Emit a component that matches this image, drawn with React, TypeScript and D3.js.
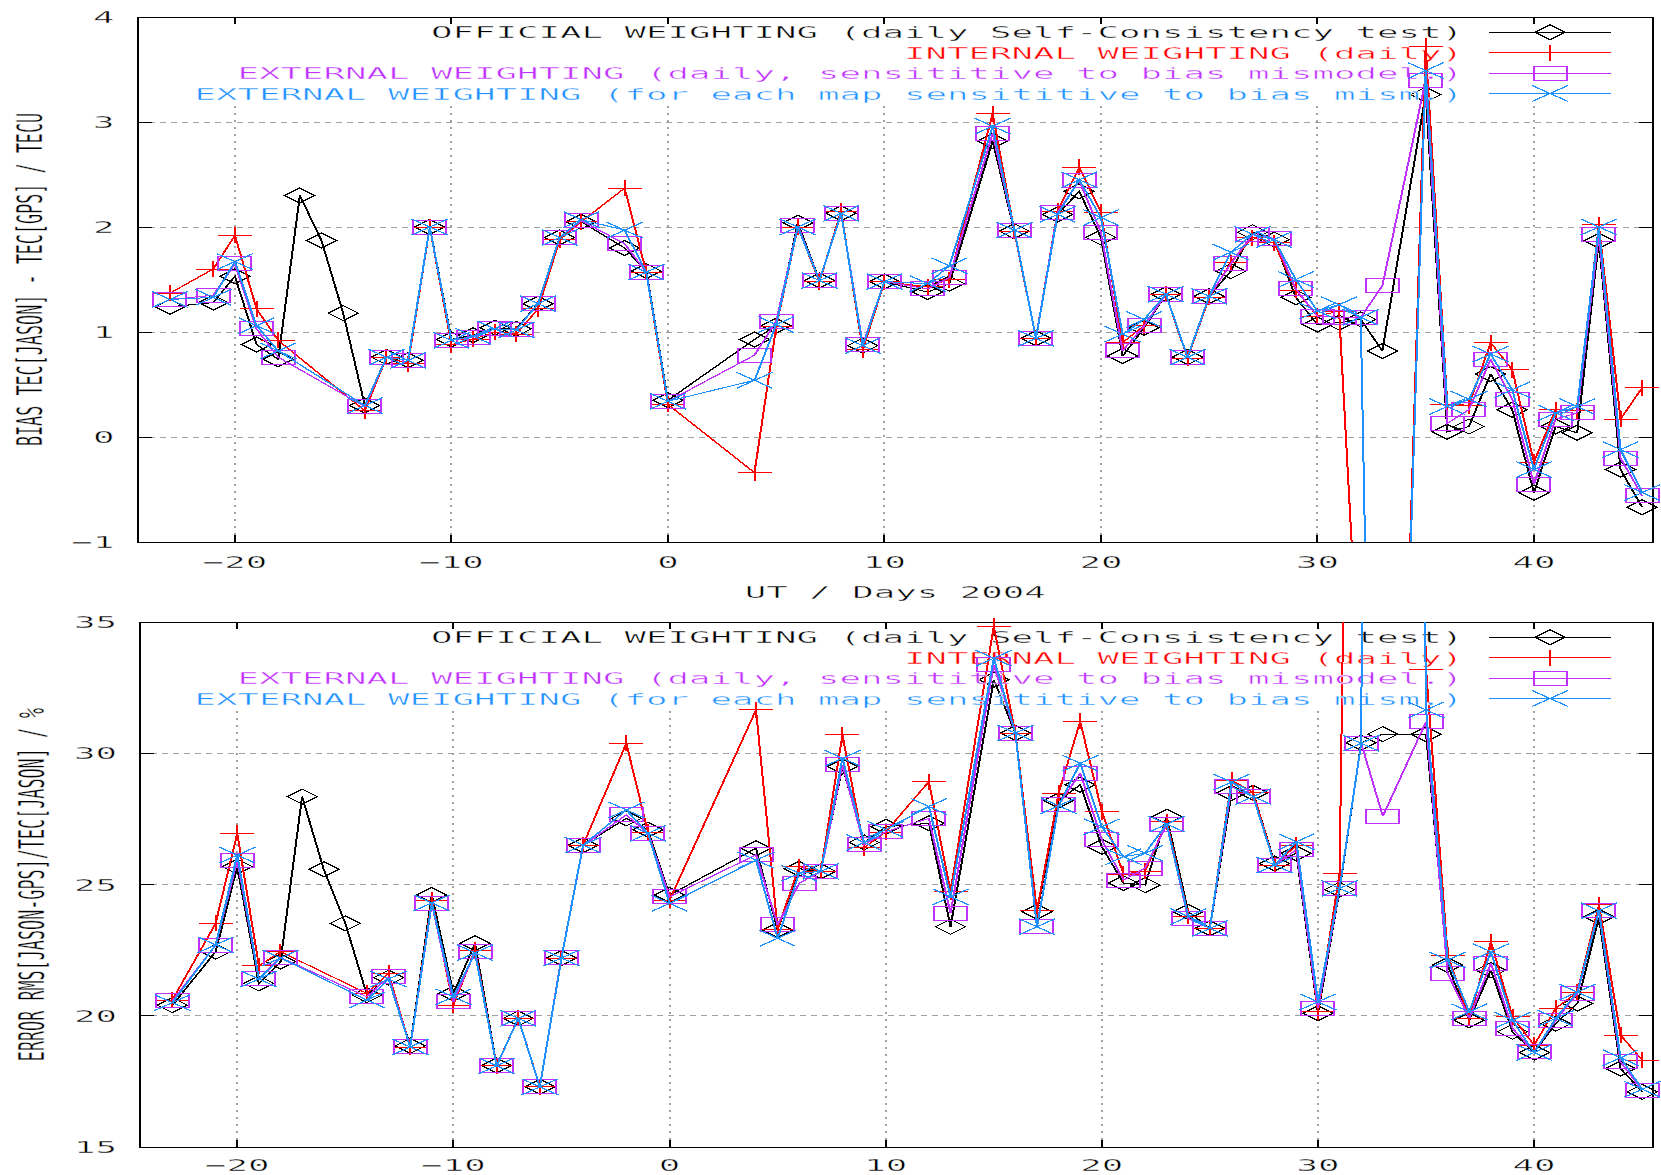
import React from 'react';
import * as d3 from 'd3';

// ---------- data ----------
const xDays: number[] = [-23, -21, -20, -19, -18, -17, -16, -15, -14, -13, -12, -11, -10, -9, -8, -7, -6, -5, -4, -2, -1, 0, 4, 5, 6, 7, 8, 9, 10, 12, 13, 15, 16, 17, 18, 19, 20, 21, 22, 23, 24, 25, 26, 27, 28, 29, 30, 31, 32, 33, 35, 36, 37, 38, 39, 40, 41, 42, 43, 44, 45];

const topBlack: (number | null)[] = [1.24, 1.28, 1.53, 0.88, 0.74, 2.30, 1.87, 1.18, 0.30, 0.76, 0.73, 2.00, 0.93, 0.97, 1.04, 1.03, 1.27, 1.90, 2.05, 1.80, 1.58, 0.35, 0.93, 1.06, 2.04, 1.49, 2.13, 0.87, 1.48, 1.38, 1.46, 2.82, 1.96, 0.94, 2.12, 2.34, 1.90, 0.77, 1.04, 1.36, 0.76, 1.34, 1.58, 1.95, 1.88, 1.33, 1.07, 1.09, 1.12, 0.82, 3.26, 0.05, 0.10, 0.60, 0.26, -0.53, 0.10, 0.04, 1.87, -0.31, -0.67];
const topRed: (number | null)[] = [1.37, 1.60, 1.92, 1.22, 0.92, null, null, null, 0.25, 0.76, 0.70, 2.00, 0.88, 0.93, 1.00, 0.98, 1.22, 1.88, 2.05, 2.37, 1.57, 0.31, -0.34, 1.05, 2.00, 1.48, 2.15, 0.83, 1.48, 1.43, 1.50, 3.08, 1.96, 0.94, 2.15, 2.57, 2.14, 0.90, 1.06, 1.36, 0.75, 1.33, 1.66, 1.90, 1.85, 1.40, 1.15, 1.20, -2.6, -9.5, 3.72, 0.31, 0.30, 0.90, 0.64, -0.24, 0.26, 0.25, 2.02, 0.17, 0.47];
const topMagenta: (number | null)[] = [1.31, 1.35, 1.65, 1.03, 0.76, null, null, null, 0.29, 0.76, 0.73, 2.00, 0.92, 0.95, 1.03, 1.02, 1.27, 1.90, 2.06, 1.84, 1.57, 0.34, 0.78, 1.10, 2.01, 1.49, 2.13, 0.88, 1.48, 1.41, 1.52, 2.89, 1.97, 0.94, 2.14, 2.44, 1.95, 0.82, 1.06, 1.36, 0.76, 1.34, 1.65, 1.93, 1.89, 1.41, 1.15, 1.14, 1.14, 1.44, 3.40, 0.13, 0.26, 0.74, 0.36, -0.45, 0.17, 0.23, 1.93, -0.20, -0.56];
const topBlue: (number | null)[] = [1.31, 1.33, 1.67, 1.06, 0.82, null, null, null, 0.30, 0.76, 0.73, 2.00, 0.92, 0.96, 1.03, 1.02, 1.27, 1.90, 2.07, 1.97, 1.57, 0.34, 0.54, 1.07, 2.00, 1.49, 2.13, 0.87, 1.48, 1.46, 1.63, 2.96, 1.97, 0.94, 2.12, 2.45, 2.09, 0.98, 1.12, 1.36, 0.76, 1.34, 1.76, 1.93, 1.88, 1.50, 1.20, 1.26, 1.14, -9.6, 3.49, 0.29, 0.36, 0.79, 0.45, -0.31, 0.23, 0.29, 2.00, -0.12, -0.53];

const botBlack: (number | null)[] = [20.4, 22.44, 25.68, 21.23, 22.06, 28.35, 25.58, 23.52, 20.79, 21.45, 18.85, 24.6, 20.85, 22.76, 18.1, 19.9, 17.3, 22.2, 26.5, 27.52, 27.08, 24.6, 26.38, 23.27, 25.6, 25.5, 29.5, 26.6, 27.2, 27.33, 23.39, 32.8, 30.77, 23.96, 28.2, 28.8, 26.44, 25.05, 24.98, 27.58, 23.96, 23.33, 28.48, 28.5, 25.8, 26.19, 20.09, 24.8, 30.4, 30.73, 30.73, 21.93, 19.83, 21.74, 19.39, 18.6, 19.7, 20.47, 23.77, 17.99, 17.1];
const botRed: (number | null)[] = [20.6, 23.52, 26.95, 21.9, 22.44, null, null, null, 20.85, 21.61, 18.8, 24.4, 20.4, 22.5, 18.1, 19.9, 17.3, 22.2, 26.5, 30.38, 27.0, 24.4, 31.65, 23.3, 25.68, 25.5, 30.7, 26.4, 27.0, 28.92, 24.73, 34.83, 30.77, 24.0, 28.48, 31.21, 27.78, 25.4, 25.5, 27.4, 23.8, 23.33, 28.98, 28.5, 25.74, 26.5, 20.15, 25.43, 85, 105, 33.2, 22.31, 19.9, 22.82, 19.96, 18.88, 20.28, 20.9, 24.22, 19.26, 18.31];
const botMagenta: (number | null)[] = [20.57, 22.69, 25.93, 21.42, 22.22, null, null, null, 20.72, 21.48, 18.81, 24.28, 20.53, 22.44, 18.09, 19.9, 17.29, 22.22, 26.48, 27.65, 26.95, 24.53, 26.13, 23.46, 25.05, 25.49, 29.56, 26.51, 27.01, 27.52, 23.9, 33.37, 30.77, 23.39, 28.03, 29.24, 26.7, 25.17, 25.62, 27.3, 23.71, 23.33, 28.73, 28.35, 25.74, 26.32, 20.28, 24.85, 30.38, 27.6, 31.2, 21.61, 19.9, 21.99, 19.52, 18.62, 19.83, 20.85, 24.0, 18.24, 17.16];
const botBlue: (number | null)[] = [20.5, 22.7, 26.12, 21.4, 22.2, null, null, null, 20.6, 21.4, 18.81, 24.3, 20.72, 22.4, 18.09, 19.9, 17.29, 22.2, 26.5, 27.84, 26.95, 24.28, 25.93, 22.95, 25.43, 25.5, 29.81, 26.6, 27.1, 27.97, 24.53, 33.62, 30.77, 23.39, 28.0, 29.62, 27.2, 26.06, 26.19, 27.3, 23.78, 23.33, 28.9, 28.35, 25.74, 26.63, 20.53, 24.85, 30.38, 180, 31.65, 22.12, 20.15, 22.44, 19.83, 18.6, 19.9, 20.9, 24.0, 18.4, 17.2];

const xTicks: number[] = [-20, -10, 0, 10, 20, 30, 40];
const topYTicks: number[] = [-1, 0, 1, 2, 3, 4];
const botYTicks: number[] = [15, 20, 25, 30, 35];

const seriesTitles: string[] = [
  'OFFICIAL WEIGHTING (daily Self-Consistency test)',
  'INTERNAL WEIGHTING (daily)',
  'EXTERNAL WEIGHTING (daily, sensititive to bias mismodel.)',
  'EXTERNAL WEIGHTING (for each map sensititive to bias mism.)',
];
const seriesColors: string[] = ['#000000', '#ff0000', '#c030ff', '#1e90ff'];
const seriesMarkers: string[] = ['diamond', 'plus', 'square', 'cross'];

const topYLabel = 'BIAS TEC[JASON] - TEC[GPS] / TECU';
const botYLabel = 'ERROR RMS[JASON-GPS]/TEC[JASON] / %';
const xLabelText = 'UT / Days 2004';

// ---------- layout ----------
const W = 1661;
const H = 1175;
const SX = 2; // horizontal stretch of the raster look
const PITCH = 21.5;
const FONT = "'DejaVu Sans Mono', 'Liberation Mono', monospace";
const MONO_ADV = 0.6021; // DejaVu Sans Mono advance / em
const X_DOMAIN: [number, number] = [-24.5, 45.5];

function fmt(v: number): string {
  return String(v).replace('-', '\u2212');
}

function WText(props: { x: number; y: number; text: string; anchor?: string; fill?: string; pitch?: number; size?: number }) {
  const { x, y, text, anchor = 'start', fill = '#000', pitch = PITCH, size = 16.5 } = props;
  const len = text.length * pitch;
  const x0 = anchor === 'start' ? x : anchor === 'end' ? x - len : x - len / 2;
  return (
    <text
      x={x0}
      y={y}
      textLength={len}
      lengthAdjust="spacingAndGlyphs"
      fontFamily={FONT}
      fontSize={size}
      fill={fill}
      stroke="#fff"
      strokeWidth={0.4}
      xmlSpace="preserve"
    >
      {text}
    </text>
  );
}

function Marker(props: { kind: string; x: number; y: number; color: string }) {
  const { kind, x, y, color } = props;
  const lx = x / SX;
  const common = { fill: 'none', stroke: color, strokeWidth: 1 };
  if (kind === 'diamond') {
    return <path d={`M${lx - 7.5},${y}L${lx},${y - 7.5}L${lx + 7.5},${y}L${lx},${y + 7.5}Z`} {...common} />;
  }
  if (kind === 'plus') {
    return <path d={`M${lx - 8.5},${y}H${lx + 8.5}M${lx},${y - 8}V${y + 8}`} {...common} />;
  }
  if (kind === 'square') {
    return <rect x={lx - 8.25} y={y - 7} width={16.5} height={14} {...common} />;
  }
  return <path d={`M${lx - 9},${y - 8}L${lx + 9},${y + 8}M${lx - 9},${y + 8}L${lx + 9},${y - 8}`} {...common} />;
}

type Box = { left: number; right: number; top: number; bottom: number };

function Panel(props: {
  id: string;
  box: Box;
  yDomain: [number, number];
  yTicks: number[];
  data: (number | null)[][];
  yLabel: string;
  yLabelX: number;
  showXLabel: boolean;
}) {
  const { id, box, yDomain, yTicks, data, yLabel, yLabelX, showXLabel } = props;
  const x = d3.scaleLinear().domain(X_DOMAIN).range([box.left, box.right]);
  const y = d3.scaleLinear().domain(yDomain).range([box.bottom, box.top]);
  const gridTop = box.top + 86;
  const line = d3
    .line<[number, number]>()
    .x((d) => x(d[0]) / SX)
    .y((d) => y(d[1]));
  const clipId = `clip-${id}`;
  const cy = (box.top + box.bottom) / 2;
  const labSize = 35;
  const labNatural = yLabel.length * MONO_ADV * labSize;
  const labTarget = yLabel.length * 10.1;
  const labScale = labTarget / labNatural;

  const legendRowsY = seriesTitles.map((_, i) => box.top + 21.3 + i * 20.4);

  return (
    <g>
      {/* y label */}
      <g transform={`translate(${yLabelX},${cy}) rotate(-90) scale(${labScale},1)`}>
        <text x={0} y={0} textAnchor="middle" fontFamily={FONT} fontSize={labSize} fill="#000" stroke="#fff" strokeWidth={0.6}>
          {yLabel}
        </text>
      </g>
      {/* y tick labels */}
      {yTicks.map((t) => (
        <WText key={`yt${t}`} x={box.left - 23} y={y(t) + 6} text={fmt(t)} anchor="end" />
      ))}
      {/* x tick labels */}
      {xTicks.map((t) => (
        <WText key={`xt${t}`} x={x(t)} y={Math.min(box.bottom + 26, H - 4.5)} text={fmt(t)} anchor="middle" />
      ))}
      {showXLabel && <WText x={(box.left + box.right) / 2} y={box.bottom + 56} text={xLabelText} anchor="middle" />}

      <g transform={`scale(${SX},1)`} shapeRendering="crispEdges">
        <defs>
          <clipPath id={clipId}>
            <rect x={box.left / SX} y={box.top} width={(box.right - box.left) / SX} height={box.bottom - box.top} />
          </clipPath>
        </defs>
        {/* grid */}
        {yTicks
          .filter((t) => t !== yDomain[0] && t !== yDomain[1])
          .map((t) => (
            <line key={`gy${t}`} x1={box.left / SX} x2={box.right / SX} y1={y(t)} y2={y(t)} stroke="#a0a0a0" strokeWidth={1} strokeDasharray="3 2.5" />
          ))}
        {xTicks.map((t) => (
          <line key={`gx${t}`} x1={x(t) / SX} x2={x(t) / SX} y1={box.bottom} y2={gridTop} stroke="#a0a0a0" strokeWidth={1} strokeDasharray="2 5" />
        ))}
        {/* ticks */}
        {yTicks.map((t) => (
          <g key={`tk${t}`}>
            <line x1={box.left / SX} x2={box.left / SX + 7} y1={y(t)} y2={y(t)} stroke="#000" strokeWidth={1} />
            <line x1={box.right / SX} x2={box.right / SX - 7} y1={y(t)} y2={y(t)} stroke="#000" strokeWidth={1} />
          </g>
        ))}
        {xTicks.map((t) => (
          <g key={`tkx${t}`}>
            <line x1={x(t) / SX} x2={x(t) / SX} y1={box.bottom} y2={box.bottom - 7} stroke="#000" strokeWidth={1} />
            <line x1={x(t) / SX} x2={x(t) / SX} y1={box.top} y2={box.top + 7} stroke="#000" strokeWidth={1} />
          </g>
        ))}
        {/* frame */}
        <rect x={box.left / SX} y={box.top} width={(box.right - box.left) / SX} height={box.bottom - box.top} fill="none" stroke="#000" strokeWidth={1} />
      </g>

      {data.map((vals, si) => {
        const pts: [number, number][] = [];
        vals.forEach((v, i) => {
          if (v !== null) pts.push([xDays[i], v]);
        });
        const color = seriesColors[si];
        const ly = legendRowsY[si];
        return (
          <g key={`s${si}`}>
            <WText x={1463} y={ly} text={seriesTitles[si]} anchor="end" fill={color} />
            <g transform={`scale(${SX},1)`} shapeRendering="crispEdges">
              <line x1={1489 / SX} x2={1611 / SX} y1={ly - 6} y2={ly - 6} stroke={color} strokeWidth={1} />
              <Marker kind={seriesMarkers[si]} x={1550} y={ly - 6} color={color} />
              <g clipPath={`url(#${clipId})`}>
                <path d={line(pts) || ''} fill="none" stroke={color} strokeWidth={1} />
              </g>
              {pts
                .filter((p) => p[1] >= yDomain[0] && p[1] <= yDomain[1])
                .map((p, k) => (
                  <Marker key={k} kind={seriesMarkers[si]} x={x(p[0])} y={y(p[1])} color={color} />
                ))}
            </g>
          </g>
        );
      })}
    </g>
  );
}

export default function App() {
  const topBox: Box = { left: 137.5, right: 1653, top: 17, bottom: 542 };
  const botBox: Box = { left: 140, right: 1653, top: 622, bottom: 1147 };
  return (
    <svg width={W} height={H} viewBox={`0 0 ${W} ${H}`} style={{ position: 'absolute', left: 0, top: 0, background: '#fff' }}>
      <rect x={0} y={0} width={W} height={H} fill="#fff" />
      <Panel
        id="top"
        box={topBox}
        yDomain={[-1, 4]}
        yTicks={topYTicks}
        data={[topBlack, topRed, topMagenta, topBlue]}
        yLabel={topYLabel}
        yLabelX={42}
        showXLabel={true}
      />
      <Panel
        id="bot"
        box={botBox}
        yDomain={[15, 35]}
        yTicks={botYTicks}
        data={[botBlack, botRed, botMagenta, botBlue]}
        yLabel={botYLabel}
        yLabelX={44}
        showXLabel={false}
      />
    </svg>
  );
}
